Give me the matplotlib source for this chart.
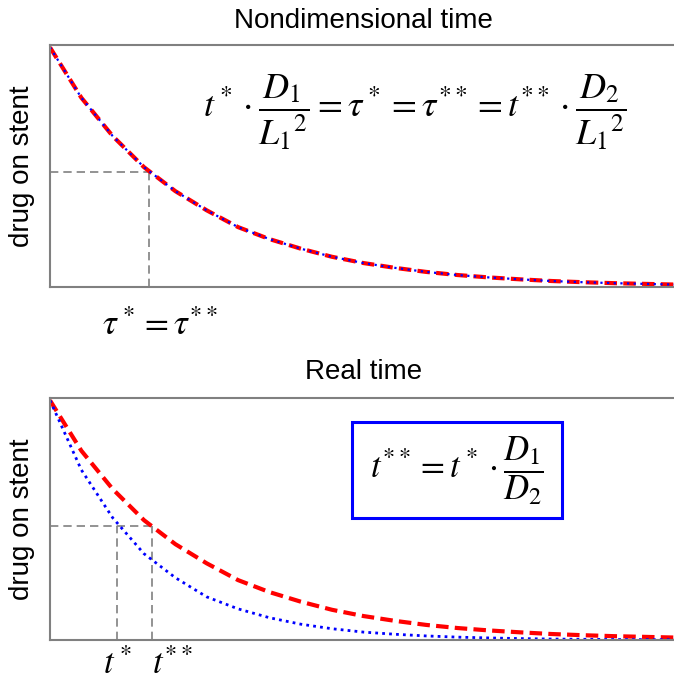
import matplotlib.pyplot as plt
from matplotlib.patches import Rectangle

plt.rcParams['font.family'] = ['Liberation Sans', 'DejaVu Sans']
plt.rcParams['mathtext.fontset'] = 'stix'

# values (fraction of drug left vs. fraction of time axis)
time = [0.0, 0.05, 0.1, 0.15, 0.2, 0.25, 0.3, 0.35, 0.4, 0.45, 0.5,
        0.55, 0.6, 0.65, 0.7, 0.75, 0.8, 0.85, 0.9, 0.95, 1.0]
drug_slow = [1.0, 0.79, 0.63, 0.50, 0.40, 0.32, 0.25, 0.20, 0.16, 0.126, 0.10,
             0.08, 0.063, 0.05, 0.04, 0.032, 0.025, 0.02, 0.016, 0.013, 0.01]
drug_fast = [1.0, 0.71, 0.51, 0.36, 0.26, 0.18, 0.13, 0.093, 0.066, 0.047, 0.033,
             0.024, 0.017, 0.012, 0.0086, 0.006, 0.004, 0.003, 0.002, 0.0015, 0.001]

# markierte Punkte
tau_mark = 0.158
level_top = 0.48
t1_mark = 0.107
t2_mark = 0.163
level_bot = 0.475

grey = '#808080'

fig = plt.figure(figsize=(6.74, 6.84), dpi=100)
ax1 = fig.add_axes([50 / 674, 1 - 287 / 684, 0.93, 242 / 684])
ax2 = fig.add_axes([50 / 674, 1 - 640 / 684, 0.93, 242 / 684])

for ax in (ax1, ax2):
    ax.set_xlim(0, 1)
    ax.set_ylim(0, 1.01)
    ax.set_xticks([])
    ax.set_yticks([])
    for s in ax.spines.values():
        s.set_color(grey)
        s.set_linewidth(1.5)
    ax.set_ylabel('drug on stent', fontsize=20)
    ax.yaxis.set_label_coords(-0.024, 0.5)

# oben: Nondimensional time
ax1.plot([0, tau_mark], [level_top, level_top], color=grey, ls=(0, (5, 3)), lw=1.2)
ax1.plot([tau_mark, tau_mark], [0, level_top], color=grey, ls=(0, (5, 3)), lw=1.2)
ax1.plot(time, drug_slow, color='red', ls=(0, (3, 1.5)), lw=3)
ax1.plot(time, drug_slow, color='blue', ls=(0, (1, 2)), lw=1.6)
ax1.set_title('Nondimensional time', fontsize=20, pad=12)
ax1.text(0.582, 0.72, r'$t^*\cdot\dfrac{D_1}{{L_1}^2}=\tau^*=\tau^{**}=t^{**}\cdot\dfrac{D_2}{{L_1}^2}$',
         fontsize=26, ha='center', va='center', transform=ax1.transAxes)
ax1.text(tau_mark + 0.018, -0.16, r'$\tau^*=\tau^{**}$', fontsize=25, ha='center', va='center',
         transform=ax1.get_xaxis_transform())

# unten: Real time
ax2.plot([0, t2_mark], [level_bot, level_bot], color=grey, ls=(0, (5, 3)), lw=1.2)
ax2.plot([t1_mark, t1_mark], [0, level_bot], color=grey, ls=(0, (5, 3)), lw=1.2)
ax2.plot([t2_mark, t2_mark], [0, level_bot], color=grey, ls=(0, (5, 3)), lw=1.2)
ax2.plot(time, drug_slow, color='red', ls=(0, (3, 1.5)), lw=3)
ax2.plot(time, drug_fast, color='blue', ls=(0, (1, 1.5)), lw=2)
ax2.set_title('Real time', fontsize=20, pad=14)
ax2.add_patch(Rectangle((0.481, 0.504), 0.336, 0.397, transform=ax2.transAxes,
                        facecolor='white', edgecolor='blue', lw=2.2, zorder=3))
ax2.text(0.649, 0.70, r'$t^{**}=t^*\cdot\dfrac{D_1}{D_2}$', fontsize=25, ha='center', va='center',
         transform=ax2.transAxes, zorder=4)
ax2.text(t1_mark, -0.103, r'$t^*$', fontsize=25, ha='center', va='center',
         transform=ax2.get_xaxis_transform())
ax2.text(t2_mark, -0.103, r'$t^{**}$', fontsize=25, ha='left', va='center',
         transform=ax2.get_xaxis_transform())

fig.savefig('out.png', dpi=100)
